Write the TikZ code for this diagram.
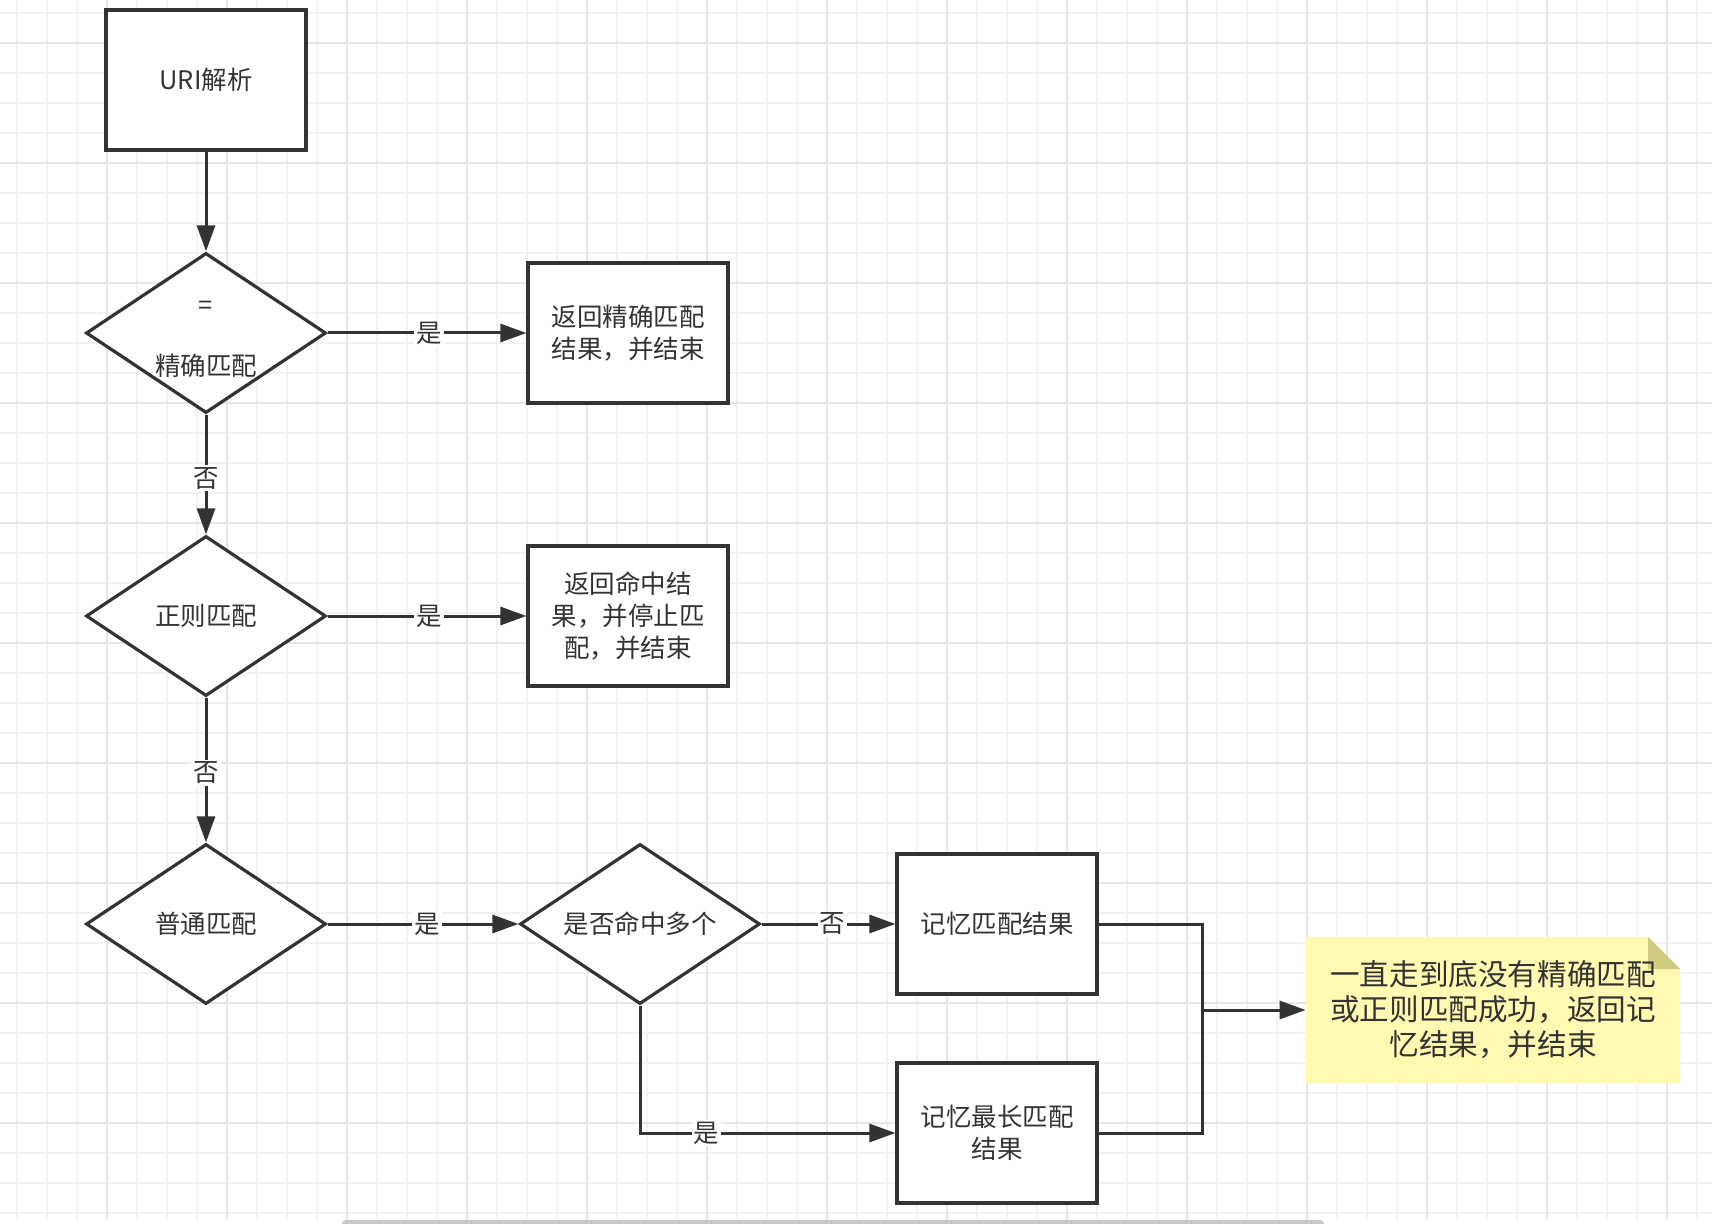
\documentclass[tikz,border=0pt]{standalone}
\usepackage{fontspec}
\usepackage{tikz}
\usetikzlibrary{shapes.geometric,arrows.meta}
\setmainfont{Noto Sans CJK SC}
\definecolor{lineDark}{RGB}{51,51,51}
\definecolor{gridMinor}{RGB}{243,243,243}
\definecolor{gridMajor}{RGB}{230,230,230}
\definecolor{noteYellow}{RGB}{255,249,178}
\definecolor{noteFold}{RGB}{208,203,128}
\definecolor{barGray}{RGB}{200,200,200}

\begin{document}
\begin{tikzpicture}[x=0.5pt,y=-0.5pt,
    every node/.style={font=\fontsize{12.75}{16}\selectfont, text=lineDark},
    procbox/.style={draw=lineDark, line width=1.6pt, fill=white, minimum width=100pt, minimum height=70pt, align=center},
    decision/.style={diamond, draw=lineDark, line width=1.6pt, fill=white, minimum width=120pt, minimum height=80pt, aspect=1.5, inner sep=0pt, align=center},
    notetext/.style={minimum width=187pt, minimum height=73pt, align=center, font=\fontsize{14.8}{17.5}\selectfont},
    flow/.style={draw=lineDark, line width=1.5pt, -{Triangle[length=13pt,width=9pt]}},
    link/.style={draw=lineDark, line width=1.5pt},
    answer/.style={fill=white, inner sep=1pt}]
        \useasboundingbox (0,0) rectangle (1712,1224);
        \fill[white] (0,0) rectangle (1712,1224);
        % grid
        \foreach \gx in {17,47,...,1710} \draw[gridMinor, line width=0.6pt] (\gx,0) -- (\gx,1220);
        \foreach \gy in {13,43,...,1220} \draw[gridMinor, line width=0.6pt] (0,\gy) -- (1712,\gy);
        \foreach \gx in {107,227,...,1710} \draw[gridMajor, line width=0.8pt] (\gx,0) -- (\gx,1220);
        \foreach \gy in {43,163,...,1220} \draw[gridMajor, line width=0.8pt] (0,\gy) -- (1712,\gy);
        \fill[barGray, rounded corners=2pt] (342,1220) rectangle (1324,1228);

        % note paper
        \fill[noteYellow] (1306,937) -- (1648,937) -- (1680,969) -- (1680,1083) -- (1306,1083) -- cycle;
        \fill[noteFold] (1648,937) -- (1648,969) -- (1680,969) -- cycle;

        \node[procbox] (uri) at (206,80) {URI解析};
        \node[decision, label={[align=center, yshift=-3.3pt]center:{=\\[14.5pt]精确匹配}}] (d1) at (206,333) {};
        \node[procbox] (r1) at (628,333) {返回精确匹配\\结果，并结束};
        \node[decision] (d2) at (206,616) {正则匹配};
        \node[procbox] (r2) at (628,616) {返回命中结\\果，并停止匹\\配，并结束};
        \node[decision] (d3) at (206,924) {普通匹配};
        \node[decision] (d4) at (640,924) {是否命中多个};
        \node[procbox] (m1) at (997,924) {记忆匹配结果};
        \node[procbox] (m2) at (997,1133) {记忆最长匹配\\结果};
        \node[notetext] (note) at (1493,1010) {一直走到底没有精确匹配\\或正则匹配成功，返回记\\忆结果，并结束};
        \coordinate (j) at (1202,1010);

        \draw[flow] (uri) -- (d1);
        \draw[flow] (d1) -- node[answer, pos=0.51] {是} (r1);
        \draw[flow] (d1) -- node[answer, pos=0.53] {否} (d2);
        \draw[flow] (d2) -- node[answer, pos=0.51] {是} (r2);
        \draw[flow] (d2) -- node[answer, pos=0.52] {否} (d3);
        \draw[flow] (d3) -- node[answer, pos=0.52] {是} (d4);
        \draw[flow] (d4) -- node[answer, pos=0.53] {否} (m1);
        \draw[flow] (d4) |- node[answer, pos=0.63] {是} (m2);
        \draw[link] (m1) -| (j);
        \draw[link] (m2) -| (j);
        \draw[flow] (j) -- (note);
      \end{tikzpicture}
\end{document}
